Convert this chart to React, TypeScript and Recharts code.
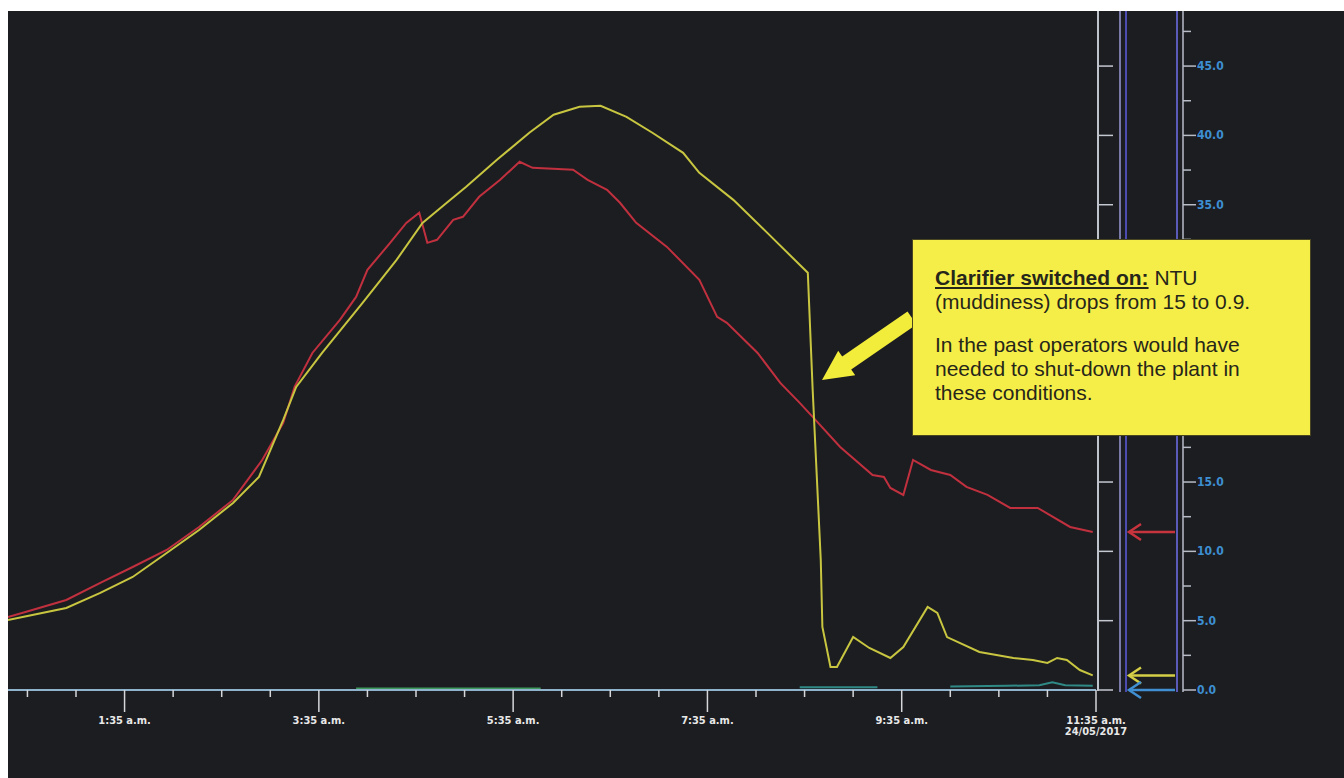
import React from "react";
import { LineChart, Line, XAxis, YAxis, ReferenceLine } from "recharts";

// minutes after midnight, raw water turbidity (red trace)
const rawTimes = [23, 38, 59, 80, 100, 121, 141, 162, 180, 193, 200, 211, 228, 238, 245, 259, 269, 277, 282, 288, 298, 304, 314, 327, 339, 347, 372, 381, 393, 401, 411, 430, 450, 461, 467, 486, 500, 512, 520, 537, 557, 564, 568, 576, 582, 593, 605, 615, 628, 642, 659, 679, 693];
const rawNtu = [5.27, 5.77, 6.49, 7.72, 8.87, 10.1, 11.76, 13.71, 16.59, 19.26, 21.86, 24.31, 26.7, 28.35, 30.3, 32.25, 33.69, 34.42, 32.25, 32.47, 33.91, 34.13, 35.57, 36.8, 38.1, 37.66, 37.52, 36.8, 36.08, 35.14, 33.69, 31.96, 29.58, 26.91, 26.48, 24.31, 22.15, 20.71, 19.7, 17.53, 15.51, 15.37, 14.57, 14.07, 16.59, 15.87, 15.51, 14.65, 14.07, 13.13, 13.13, 11.76, 11.4];

// treated water turbidity (yellow trace)
const clarifiedTimes = [23, 38, 59, 80, 100, 121, 141, 162, 178, 193, 201, 217, 242, 263, 279, 294, 306, 325, 345, 360, 376, 389, 405, 421, 440, 450, 471, 492, 517, 520, 525, 526, 531, 535, 545, 555, 568, 576, 591, 597, 603, 623, 644, 656, 665, 671, 677, 685, 693];
const clarifiedNtu = [5.05, 5.41, 5.92, 7.0, 8.15, 9.88, 11.54, 13.49, 15.37, 19.48, 21.86, 24.31, 27.92, 31.02, 33.69, 35.14, 36.29, 38.24, 40.19, 41.49, 42.06, 42.14, 41.34, 40.19, 38.74, 37.3, 35.35, 32.97, 30.09, 21.65, 9.38, 4.55, 1.66, 1.66, 3.82, 3.03, 2.31, 3.1, 5.99, 5.56, 3.82, 2.74, 2.31, 2.16, 1.95, 2.31, 2.16, 1.44, 1.05];

// small traces sitting on the zero line
const greenTimes = [238, 260, 290, 320, 352];
const greenValues = [0.1, 0.1, 0.1, 0.1, 0.1];
const tealTimes = [512, 535, 560, 561, 605, 640, 660, 668, 676, 693];
const tealValues = [0.2, 0.2, 0.2, null, 0.25, 0.3, 0.35, 0.55, 0.35, 0.3];

const timeTicks = [35, 65, 95, 125, 155, 185, 215, 245, 275, 305, 335, 365, 395, 425, 455, 485, 515, 545, 575, 605, 635, 665, 695];
const labelledMinutes = [95, 215, 335, 455, 575, 695];
const timeLabels = ["1:35 a.m.", "3:35 a.m.", "5:35 a.m.", "7:35 a.m.", "9:35 a.m.", "11:35 a.m."];
const dateLabel = "24/05/2017";
const ntuTicks = [0, 2.5, 5, 7.5, 10, 12.5, 15, 17.5, 20, 22.5, 25, 27.5, 30, 32.5, 35, 37.5, 40, 42.5, 45, 47.5];
// labels the callout box sits on top of in the original trend
const coveredNtuLabels = [20, 25, 30];

const toPoints = (times: number[], values: (number | null)[]) =>
  times.map((t, i) => ({ t, v: values[i] }));

const narrow = "'Liberation Sans Narrow', 'DejaVu Sans Condensed', 'Liberation Sans', sans-serif";

function TimeTick({ x, y, payload }: any) {
  const idx = labelledMinutes.indexOf(payload.value);
  const major = idx >= 0;
  return (
    <g>
      <line x1={x} y1={y} x2={x} y2={y + (major ? 22 : 7)} stroke="#d4d6da" strokeWidth={1.5} />
      {major && (
        <text x={x} y={y + 34} textAnchor="middle" fill="#e8e8e8" fontSize={11} fontWeight="bold" fontFamily={narrow}>
          {timeLabels[idx]}
        </text>
      )}
      {major && idx === timeLabels.length - 1 && (
        <text x={x} y={y + 45} textAnchor="middle" fill="#e8e8e8" fontSize={11} fontWeight="bold" fontFamily={narrow}>
          {dateLabel}
        </text>
      )}
    </g>
  );
}

function NtuTick({ y, payload }: any) {
  const major = payload.value % 5 === 0;
  const showLabel = major && !coveredNtuLabels.includes(payload.value);
  return (
    <g>
      {major && <line x1={1099} y1={y} x2={1113} y2={y} stroke="#c4c8d0" strokeWidth={1.5} />}
      <line x1={1183} y1={y} x2={major ? 1196 : 1191} y2={y} stroke="#b8bcc6" strokeWidth={1.5} />
      {showLabel && (
        <text x={1197} y={y + 4} fill="#3d8fd2" fontSize={12} fontWeight="bold" fontFamily={narrow}>
          {payload.value.toFixed(1)}
        </text>
      )}
    </g>
  );
}

function ValueArrow({ y, color }: { y: number; color: string }) {
  return (
    <g stroke={color} strokeWidth={2.5} fill="none">
      <line x1={1129} y1={y} x2={1175} y2={y} />
      <polyline points={`1141,${y - 8} 1129,${y} 1141,${y + 8}`} />
    </g>
  );
}

const arrowShape = (color: string) => (props: any) => <ValueArrow y={props.y1} color={color} />;

export default function App() {
  const raw = toPoints(rawTimes, rawNtu);
  const clarified = toPoints(clarifiedTimes, clarifiedNtu);
  const green = toPoints(greenTimes, greenValues);
  const teal = toPoints(tealTimes, tealValues);

  return (
    <div style={{ position: "relative", width: 1344, height: 778, background: "#ffffff", overflow: "hidden" }}>
      <style>{"body{margin:0}"}</style>
      <div style={{ position: "absolute", left: 8, top: 11, right: 0, bottom: 0, background: "#1c1d21" }} />
      <div style={{ position: "absolute", left: 0, top: 0 }}>
        <LineChart width={1344} height={778} margin={{ top: 12, right: 0, bottom: 0, left: 8 }}>
          <XAxis
            dataKey="t"
            type="number"
            domain={[23, 695]}
            allowDataOverflow
            ticks={timeTicks}
            interval={0}
            tick={<TimeTick />}
            tickLine={false}
            tickSize={0}
            tickMargin={0}
            height={88}
            axisLine={{ stroke: "#8fb3cc", strokeWidth: 2 }}
          />
          <YAxis
            orientation="right"
            type="number"
            domain={[0, 48.9]}
            allowDataOverflow
            ticks={ntuTicks}
            interval={0}
            tick={<NtuTick />}
            tickLine={false}
            tickSize={0}
            tickMargin={0}
            axisLine={false}
            width={248}
          />
          <Line data={green} dataKey="v" stroke="#3e9a5c" strokeWidth={2} dot={false} isAnimationActive={false} />
          <Line data={teal} dataKey="v" stroke="#2f8a86" strokeWidth={2} dot={false} isAnimationActive={false} />
          <Line data={raw} dataKey="v" stroke="#c0303e" strokeWidth={2} dot={false} isAnimationActive={false} />
          <Line data={clarified} dataKey="v" stroke="#c8c640" strokeWidth={2} dot={false} isAnimationActive={false} />
          <ReferenceLine y={rawNtu[rawNtu.length - 1]} shape={arrowShape("#c8343e")} />
          <ReferenceLine y={clarifiedNtu[clarifiedNtu.length - 1]} shape={arrowShape("#d4cf46")} />
          <ReferenceLine y={0} shape={arrowShape("#3f8fd2")} />
        </LineChart>
      </div>
      <svg width={1344} height={778} style={{ position: "absolute", left: 0, top: 0, pointerEvents: "none" }}>
        <line x1={1098} y1={11} x2={1098} y2={691} stroke="#bfc3cc" strokeWidth={2} />
        <line x1={1120} y1={11} x2={1120} y2={692} stroke="#9a9ad6" strokeWidth={1.5} />
        <line x1={1126} y1={11} x2={1126} y2={692} stroke="#4b4bb0" strokeWidth={2} />
        <line x1={1177} y1={11} x2={1177} y2={692} stroke="#5a5ab8" strokeWidth={2} />
        <line x1={1183} y1={11} x2={1183} y2={692} stroke="#b8bcc8" strokeWidth={1.5} />
        <polygon
          points="907.5,311.4 842.2,356.4 838.2,350.7 822,380 855.2,375.3 851.2,369.6 916.5,324.6"
          fill="#f2ec3a"
        />
      </svg>
      <div
        style={{
          position: "absolute",
          left: 913,
          top: 240,
          width: 397,
          height: 195,
          boxSizing: "border-box",
          background: "#f6ee48",
          boxShadow: "0 0 0 1px #4a4620",
          padding: "26px 0 0 22px",
          fontFamily: "'Liberation Sans', Arial, sans-serif",
          fontSize: 21,
          lineHeight: "24px",
          color: "#26261a",
        }}
      >
        <div>
          <span style={{ fontWeight: "bold", textDecoration: "underline" }}>Clarifier switched on:</span> NTU
        </div>
        <div>(muddiness) drops from 15 to 0.9.</div>
        <div style={{ marginTop: 19 }}>In the past operators would have</div>
        <div>needed to shut-down the plant in</div>
        <div>these conditions.</div>
      </div>
    </div>
  );
}
